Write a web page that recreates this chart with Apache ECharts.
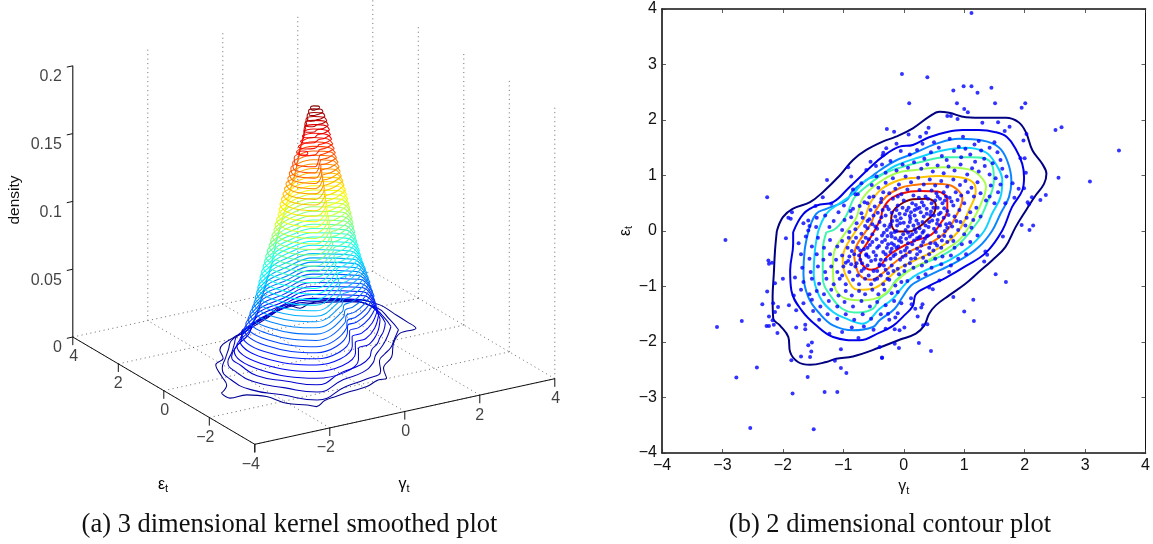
<!DOCTYPE html>
<html><head><meta charset="utf-8">
<style>html,body{margin:0;padding:0;background:#fff}#c{width:1153px;height:544px}</style>
<script src="https://cdn.jsdelivr.net/npm/echarts@6/dist/echarts.min.js"></script></head>
<body><div id="c"></div>
<script>
// ---------- data: right panel ----------
const axisTicks=[-4,-3,-2,-1,0,1,2,3,4];
const contourColors=['#000080','#0000e6','#0a84ff','#10d4ff','#40f5b0','#a8ff50','#ffc400','#ff7400','#f01000','#800000'];
const contourNavy=[[-2.10,0],[-2.0,.25],[-1.84,.40],[-1.55,.52],[-1.34,.70],[-1.06,1.0],[-.84,1.28],[-.62,1.46],[-.35,1.61],[-.13,1.70],[.15,1.85],[.42,2.06],[.59,2.15],[.75,2.13],[1.03,2.05],[1.36,2.04],[1.69,2.04],[1.9,1.96],[2.02,1.78],[2.13,1.45],[2.29,1.21],[2.36,1.03],[2.32,.85],[2.18,.64],[2.02,.37],[1.85,.07],[1.68,-.29],[1.46,-.53],[1.24,-.74],[1.02,-.95],[.75,-1.16],[.53,-1.34],[.42,-1.49],[.34,-1.70],[.20,-1.85],[-.07,-1.96],[-.4,-2.10],[-.84,-2.26],[-1.12,-2.3],[-1.28,-2.36],[-1.55,-2.41],[-1.75,-2.36],[-1.88,-2.18],[-1.91,-1.91],[-2.05,-1.70],[-2.16,-1.58],[-2.17,-1.19],[-2.15,-.77],[-2.13,-.35],[-2.10,0]];
const contourBlue=[[-1.83,-.02],[-1.66,.31],[-1.44,.46],[-1.17,.52],[-.9,.79],[-.57,1.13],[-.35,1.34],[-.07,1.52],[.15,1.55],[.42,1.69],[.7,1.78],[.97,1.82],[1.24,1.82],[1.52,1.78],[1.71,1.69],[1.85,1.48],[1.96,1.21],[1.99,.97],[1.96,.73],[1.79,.43],[1.63,.01],[1.36,-.39],[1.03,-.63],[.7,-.84],[.42,-.99],[.2,-1.14],[.15,-1.35],[0,-1.53],[-.18,-1.71],[-.4,-1.83],[-.73,-1.97],[-1.17,-1.91],[-1.45,-1.70],[-1.69,-1.43],[-1.86,-1.07],[-1.88,-.71],[-1.83,-.23],[-1.83,-.02]];
const contourAzure=[[-1.58,-.02],[-1.45,.31],[-1.28,.40],[-.95,.55],[-.84,.73],[-.51,1.0],[-.4,1.09],[-.13,1.27],[.15,1.39],[.53,1.57],[.92,1.66],[1.30,1.63],[1.57,1.51],[1.71,1.27],[1.78,.91],[1.74,.61],[1.60,.31],[1.46,0],[1.24,-.29],[.92,-.53],[.59,-.71],[.31,-.86],[.12,-.98],[-.02,-1.19],[-.15,-1.40],[-.4,-1.61],[-.51,-1.73],[-.84,-1.79],[-1.17,-1.70],[-1.39,-1.49],[-1.58,-1.19],[-1.66,-.77],[-1.64,-.35],[-1.58,-.02]];
const contourCyan=[[-1.42,-.02],[-1.28,.31],[-1.06,.50],[-.84,.67],[-.62,.92],[-.4,1.0],[-.13,1.18],[.26,1.33],[.64,1.45],[1.02,1.50],[1.35,1.42],[1.52,1.21],[1.63,.91],[1.60,.61],[1.46,.31],[1.33,0],[1.08,-.29],[.75,-.53],[.42,-.68],[.15,-.83],[-.02,-1.01],[-.18,-1.22],[-.4,-1.40],[-.68,-1.67],[-.95,-1.58],[-1.17,-1.46],[-1.39,-1.19],[-1.49,-.77],[-1.47,-.35],[-1.42,-.02]];
const contourSpring=[[-1.28,-.02],[-1.12,.05],[-.95,.28],[-.82,.60],[-.62,.80],[-.35,1.02],[-.13,1.12],[.26,1.24],[.70,1.33],[1.13,1.33],[1.41,1.27],[1.49,.91],[1.35,.43],[1.24,.19],[.92,-.23],[.64,-.44],[.31,-.59],[.04,-.74],[-.13,-.89],[-.26,-1.10],[-.4,-1.22],[-.51,-1.40],[-.75,-1.47],[-.95,-1.44],[-1.23,-1.14],[-1.34,-.84],[-1.34,-.35],[-1.28,-.02]];
const contourLime=[[-1.17,-.58],[-1.15,-.37],[-1.01,-.10],[-.79,.23],[-.68,.59],[-.43,.86],[-.13,1.04],[.20,1.10],[.64,1.15],[1.08,1.11],[1.27,.98],[1.36,.80],[1.27,.47],[1.08,.08],[.92,-.16],[.64,-.37],[.37,-.55],[.15,-.67],[-.07,-.85],[-.35,-1.16],[-.68,-1.25],[-.95,-1.22],[-1.12,-1.07],[-1.17,-.77],[-1.17,-.58]];
const contourGold=[[-1.01,-.58],[-.98,-.34],[-.82,-.04],[-.65,.23],[-.54,.53],[-.35,.77],[-.07,.92],[.20,.96],[.59,.99],[.97,.96],[1.16,.86],[1.19,.71],[1.08,.38],[.92,.02],[.70,-.22],[.48,-.37],[.20,-.52],[-.07,-.67],[-.29,-.88],[-.49,-1.03],[-.76,-1.06],[-.95,-.82],[-1.01,-.58]];
const contourOrange=[[-.82,-.46],[-.79,-.28],[-.65,-.04],[-.54,.14],[-.46,.38],[-.29,.62],[-.07,.77],[.17,.83],[.48,.85],[.75,.83],[.92,.71],[.97,.59],[.86,.26],[.70,-.01],[.48,-.19],[.15,-.34],[-.13,-.55],[-.35,-.76],[-.54,-.88],[-.73,-.79],[-.82,-.46]];
const contourRed=[[-.73,-.43],[-.68,-.34],[-.54,-.10],[-.38,.23],[-.35,.38],[-.24,.56],[-.02,.68],[.26,.72],[.56,.71],[.72,.56],[.72,.38],[.61,.14],[.45,-.07],[.15,-.19],[-.07,-.31],[-.27,-.46],[-.40,-.64],[-.54,-.70],[-.68,-.61],[-.73,-.43]];
const contourDarkRed=[[-.21,.20],[-.18,.35],[-.07,.47],[.15,.57],[.39,.58],[.53,.47],[.50,.32],[.39,.20],[.26,.08],[.09,-.01],[-.10,-.01],[-.195,.08],[-.21,.20]];
const contours=[contourNavy,contourBlue,contourAzure,contourCyan,contourSpring,contourLime,contourGold,contourOrange,contourRed,contourDarkRed];
const outlierDots=[[-2.95,-.16],[-3.09,-1.73],[-2.68,-1.62],[-2.77,-2.64],[-2.43,-2.46],[-2.54,-3.55],[-1.49,-3.57],[-1.84,-2.93],[-1.59,-2.63],[-1.31,-2.90],[-1.10,-2.90],[-1.04,-2.47],[-.95,-2.56],[-1.86,-2.33],[-1.70,-2.26],[-1.55,-2.27],[-1.53,-2.17],[-1.58,-2.06],[-1.52,-2.01],[-1.14,-2.34],[-1.04,-2.13],[-.36,-2.28],[-.40,-2.09],[-2.34,-1.32],[-2.26,-1.09],[-2.13,-.94],[-2.24,-.53],[-2.23,-.59],[-2.18,-.57],[-2.0,-.86],[-1.95,-.13],[-2.16,-1.30],[-2.08,-1.37],[-2.13,-1.46],[-2.23,-1.54],[-2.17,-1.61],[-2.27,-1.71],[-2.23,-1.71],[-2.15,-1.69],[-2.09,-1.84],[-1.90,-1.34],[-1.78,-1.43],[-1.78,-1.74],[-1.63,-1.69],[-1.63,-1.77],[-1.23,-1.85],[-.75,-1.93],[1.52,-.78],[1.69,-.92],[1.15,-1.24],[1.0,-1.45],[1.16,-1.62],[.82,-1.19],[.39,-1.68],[.32,-1.70],[.25,-2.02],[.45,-2.16],[-.08,-2.11],[-.36,-2.29],[-.15,-2.03],[.01,-1.74],[-.07,-1.79],[-.15,-1.77],[.23,-1.54],[.29,-1.38],[.31,-1.32],[.19,-1.40],[.13,-1.32],[.12,-1.21],[-.14,-1.56],[-.26,-1.49],[.42,-1.02],[.48,-1.05],[.59,-.89],[.75,-.74],[1.35,-.37],[1.64,-.10],[1.33,-.55],[1.38,-.43],[1.12,3.93],[-.03,2.83],[.39,2.77],[.82,2.53],[.99,2.61],[1.12,2.61],[1.22,2.49],[1.45,2.58],[.88,2.30],[1.51,2.30],[1.95,2.22],[2.01,2.30],[.09,2.30],[1.0,2.20],[1.06,2.14],[.72,2.07],[.78,2.07],[.89,2.02],[1.30,1.95],[1.56,1.96],[1.75,1.88],[1.67,1.80],[2.51,1.82],[2.61,1.87],[3.56,1.45],[3.08,.89],[2.56,.96],[2.35,.65],[2.26,.56],[2.12,.61],[2.05,.52],[2.07,.48],[2.03,1.75],[1.98,1.63],[1.93,1.31],[2.0,1.31],[2.02,1.05],[1.90,.76],[1.99,.77],[1.95,.11],[2.08,.02],[2.14,.10],[-.28,1.84],[-.16,1.79],[.41,1.86],[.08,1.74],[.27,1.70],[.37,1.77],[.31,1.57],[-.12,1.57],[-.35,1.36],[-.29,1.49],[-.34,1.41],[-.46,1.17],[-.36,1.20],[-.55,1.25],[-.62,1.10],[-.92,1.15],[-.87,.98],[-.70,.86],[-.84,.75],[-.80,.66],[-.76,.66],[-1.27,.92],[-1.46,.45],[-1.34,.61],[-1.20,.49],[-.99,.46],[-.84,.40],[-.73,.45],[-.57,.61],[-.65,.52],[-1.85,.34],[-1.91,.24],[-1.87,.22],[-1.66,.14],[-1.58,.19],[-1.56,.09],[-1.58,.01],[-1.45,.07],[-1.23,.07],[-.87,.25],[-.37,.58],[-2.26,.61]];
const bodyDots=[[-.05,1.44],[.1,1.38],[.22,1.46],[.34,1.3],[.45,1.42],[.58,1.5],[.63,1.35],[.71,1.28],[.83,1.44],[.91,1.52],[.95,1.33],[1.02,1.48],[1.1,1.38],[1.17,1.56],[1.18,1.25],[1.28,1.45],[1.33,1.3],[1.42,1.5],[1.47,1.22],[1.55,1.42],[1.6,1.28],[1.63,1.12],[1.5,1.6],[1.24,1.62],[.98,1.7],[.76,1.66],[.5,1.6],[-.22,1.26],[-.3,1.05],[-.12,1.09],[-.02,1.2],[.07,1.14],[.17,1.24],[.29,1.12],[.39,1.2],[.48,1.07],[.56,1.18],[.66,1.04],[.74,1.16],[.84,1.09],[.94,1.2],[1.05,1.02],[1.13,1.13],[1.24,1.07],[1.34,1.17],[1.42,1.02],[1.52,.95],[1.6,.84],[1.44,.82],[1.56,.7],[1.42,.62],[1.5,.5],[1.36,.55],[1.7,.98],[1.8,.86],[1.83,.6],[1.68,.5],[-.45,.98],[-.53,.83],[-.42,.78],[-.3,.87],[-.18,.95],[-.08,.84],[.03,.98],[.12,.88],[.24,.96],[.33,.84],[.43,.93],[.52,.82],[.62,.9],[.72,.8],[.82,.93],[.93,.83],[1.02,.9],[1.12,.78],[1.22,.88],[1.27,.68],[1.16,.62],[1.06,.7],[.95,.64],[.86,.7],[.76,.6],[.66,.7],[.56,.62],[.46,.73],[.36,.62],[.26,.74],[.16,.64],[.06,.75],[-.04,.66],[-.14,.76],[-.24,.68],[-.34,.7],[-.5,.62],[-.6,.5],[-.48,.44],[-.38,.52],[-.28,.44],[-.18,.58],[-.1,.46],[0,.55],[.08,.42],[.14,.5],[.22,.4],[.3,.52],[.38,.4],[.46,.5],[.56,.42],[.64,.5],[.72,.36],[.82,.46],[.92,.38],[1.0,.5],[1.1,.34],[1.2,.42],[1.27,.26],[1.15,.2],[1.04,.24],[.94,.16],[.84,.26],[.76,.14],[.66,.24],[.6,.1],[.5,.28],[.42,.16],[.33,.26],[.24,.13],[.18,.28],[.1,.16],[.02,.3],[-.06,.14],[-.14,.26],[-.22,.12],[-.3,.28],[-.4,.16],[-.5,.28],[-.6,.18],[-.7,.32],[-.78,.14],[-.88,.36],[-.98,.2],[-1.08,.34],[-1.16,.18],[-1.3,.28],[-1.44,.24],[-1.02,.02],[-.9,-.02],[-.8,.03],[-.7,-.05],[-.6,.05],[-.52,-.06],[-.44,.04],[-.36,-.08],[-.28,.02],[-.2,-.1],[-.12,0],[-.05,-.12],[.03,.02],[.1,-.1],[.18,.03],[.25,-.12],[.33,.0],[.4,-.08],[.5,.04],[.58,-.1],[.68,0],[.78,-.1],[.9,.02],[1.0,-.06],[1.12,.06],[1.22,-.08],[1.1,-.2],[.96,-.24],[.84,-.3],[.72,-.2],[.62,-.3],[.52,-.22],[.42,-.3],[.32,-.2],[.22,-.32],[.14,-.24],[.05,-.3],[-.04,-.2],[-.12,-.3],[-.2,-.22],[-.28,-.3],[-.36,-.2],[-.44,-.3],[-.52,-.2],[-.6,-.3],[-.68,-.2],[-.76,-.3],[-.84,-.2],[-.93,-.3],[-1.02,-.18],[-1.1,-.28],[-1.22,-.16],[-1.32,-.3],[-1.42,-.12],[-1.52,-.28],[-1.62,-.1],[-1.74,-.22],[-1.7,-.42],[-1.56,-.5],[-1.44,-.42],[-1.33,-.52],[-1.22,-.42],[-1.12,-.52],[-1.02,-.44],[-.92,-.54],[-.82,-.42],[-.72,-.52],[-.62,-.44],[-.54,-.54],[-.46,-.44],[-.38,-.52],[-.3,-.42],[-.22,-.5],[-.14,-.42],[-.06,-.52],[.03,-.44],[.12,-.5],[.22,-.42],[.32,-.48],[.42,-.42],[.52,-.5],[.64,-.46],[.78,-.44],[.9,-.5],[1.03,-.42],[.78,-.62],[.62,-.6],[.46,-.66],[.3,-.62],[.16,-.66],[.02,-.62],[-.1,-.68],[-.2,-.62],[-.3,-.7],[-.4,-.62],[-.5,-.72],[-.6,-.62],[-.7,-.72],[-.8,-.64],[-.9,-.74],[-1.0,-.64],[-1.1,-.74],[-1.2,-.64],[-1.3,-.74],[-1.42,-.64],[-1.54,-.74],[-1.68,-.66],[-1.8,-.84],[-1.66,-.92],[-1.52,-.86],[-1.4,-.95],[-1.28,-.86],[-1.16,-.96],[-1.06,-.86],[-.96,-.96],[-.84,-.88],[-.74,-.96],[-.64,-.86],[-.54,-.96],[-.44,-.86],[-.34,-.96],[-.24,-.88],[-.14,-.98],[-.04,-.92],[.06,-.9],[.24,-.84],[.36,-.78],[-.1,-1.1],[-.2,-1.12],[-.32,-1.06],[-.42,-1.14],[-.52,-1.06],[-.64,-1.14],[-.74,-1.08],[-.86,-1.16],[-.96,-1.08],[-1.08,-1.16],[-1.2,-1.06],[-1.32,-1.14],[-1.44,-1.08],[-1.56,-1.14],[-1.7,-1.06],[-1.82,-1.16],[-1.66,-1.3],[-1.52,-1.24],[-1.38,-1.36],[-1.24,-1.26],[-1.1,-1.36],[-.98,-1.28],[-.84,-1.36],[-.7,-1.26],[-.56,-1.36],[-.44,-1.28],[-.3,-1.34],[-.16,-1.26],[-.04,-1.3],[-.1,-1.48],[-.24,-1.6],[-.38,-1.5],[-.54,-1.58],[-.68,-1.5],[-.82,-1.6],[-.96,-1.5],[-1.1,-1.58],[-1.26,-1.5],[-1.4,-1.6],[-1.5,-1.44],[-.5,-1.78],[-.66,-1.72],[-.86,-1.74],[-1.02,-1.82],[-.3,-1.76],[-.2,-.32],[-.15,-.02],[-.32,.1],[.0,.15],[.12,.34],[.25,.6],[-.1,.62],[.45,.35],[.58,.3],[-.45,-.15],[-.62,-.42],[-.58,-.15],[-.4,-.6],[-.22,-.38],[-.05,-.38],[.1,-.38],[.27,-.1],[.36,.1],[.16,.1],[-.02,.42],[-.35,.38],[-.52,.12],[-.72,-.35],[-.9,-.46],[-.78,-.58],[-.48,-.88],[-.26,-.76],[.2,-.02],[.28,.34],[.52,.55],[.7,.62]];
const coreDots=[[-.31,-.16],[-.27,-.09],[-.24,.07],[-.19,.18],[-.16,-.25],[-.11,.1],[-.08,-.17],[-.05,.23],[-.01,-.06],[.04,-.14],[.07,.08],[.11,.22],[.14,-.06],[.17,-.17],[.21,.19],[.26,.05],[.29,-.26],[.31,.16],[.35,-.14],[.38,.31],[.41,.07],[.44,-.22],[.47,.19],[.53,-.02],[.55,.13],[.61,.33],[.63,-.17],[.67,.41],[.7,.12],[.74,.29],[.8,.08],[-.34,-.38],[-.3,-.52],[-.26,-.24],[-.17,-.45],[-.09,-.28],[-.02,-.47],[.07,-.22],[.1,-.58],[.19,-.49],[.27,-.37],[.37,-.55],[.49,-.35],[-.41,-.27],[-.47,-.52],[-.5,-.38],[-.56,-.25],[-.58,-.47],[-.63,-.12],[-.66,-.33],[-.69,-.58],[-.74,-.44],[-.79,-.12],[-.86,-.36],[-.91,-.12],[-.96,-.57],[-.37,.25],[-.43,.33],[-.47,.08],[-.55,.38],[-.57,.21],[-.64,.09],[-.68,.24],[-.25,.39],[-.2,.33],[-.12,.38],[-.07,.31],[.05,.37],[.1,.27],[.2,.47],[.26,.42],[.33,.46],[.4,.58],[.49,.42],[.54,.68],[.6,.58],[.68,.55],[.79,.53],[.89,.56],[-.44,-.72],[-.38,-.8],[-.33,-.62],[-.27,-.86],[-.17,-.72],[-.08,-.78],[.01,-.72],[-.58,-.8],[-.66,-.68],[-.76,-.8],[-.87,-.6],[-1.02,-.8],[.31,-.03],[.44,.29],[.18,.38],[.07,-.03],[-.11,.19],[-.21,-.04],[-.33,-.03],[.56,.2],[.72,.06],[.87,.18],[1.02,.1],[.67,-.09],[.82,-.18],[.55,-.26],[.38,-.1],[.22,-.13],[.02,-.35],[-.14,-.13]];
// ---------- data: left panel ----------
const zTicks=[0,.05,.1,.15,.2];
const zTickText=['0','0.05','0.1','0.15','0.2'];
const floorTicks=[-4,-2,0,2,4];
const lowestRing=[[-3.11,-1.06],[-3.10,-1.43],[-2.67,-1.45],[-2.34,-1.78],[-2.17,-2.38],[-1.83,-2.72],[-1.70,-2.92],[-1.34,-2.69],[-1.01,-2.60],[-.55,-2.50],[-.06,-2.43],[.38,-2.20],[.60,-2.21],[.87,-1.63],[1.41,-1.10],[1.89,-.39],[2.35,.08],[2.82,.16],[2.86,.63],[2.88,1.25],[2.89,1.86],[2.60,2.41],[2.15,2.68],[1.59,2.78],[1.23,2.63],[1.08,2.97],[.48,2.71],[-.23,2.28],[-.70,1.94],[-.98,1.86],[-1.71,1.31],[-1.92,.82],[-2.28,.55],[-2.55,-.16],[-2.73,-.67],[-3.11,-1.06]];
const lowestLevel=.0032;
const lowRingLevels=[.0068,.0104,.014];
const lowRingRadii=[ // 15 degree steps from the ring centre
[2.25,2.5,2.95,3.05,2.85,2.6,2.15,1.95,1.9,1.95,1.95,2.1,2.45,2.75,3.0,3.05,3.3,2.55,2.3,2.1,1.7,1.65,1.75,1.9],
[2.05,2.3,2.7,2.8,2.65,2.4,2.0,1.85,1.8,1.82,1.82,1.95,2.3,2.55,2.8,2.9,3.1,2.4,2.15,1.85,1.6,1.55,1.6,1.75],
[1.9,2.15,2.5,2.55,2.45,2.25,1.85,1.72,1.68,1.7,1.65,1.85,2.2,2.4,2.7,2.78,2.95,2.25,2.0,1.75,1.5,1.48,1.5,1.65]];
const ringLevels=[.0176,.0212,.0248,.0284,.032,.0356,.0392,.0428,.0464,.05,.0536,.0572,.0608,.0644,.068,.0716,.0752,.0788,.0824,.086,.0896,.0932,.0968,.1004,.104,.1076,.1112,.1148,.1184,.122,.1256,.1292,.1328,.1364,.14,.1436,.1472,.1508,.1544,.158,.1616,.1652,.1688,.1724,.176,.1796,.1832];
const ringRadii=[ // 30 degree steps from the ring centre
[1.76,2.43,2.24,1.66,1.54,1.49,2.13,2.60,2.85,1.95,1.43,1.44],
[1.72,2.38,2.18,1.60,1.50,1.44,2.06,2.52,2.73,1.82,1.34,1.38],
[1.69,2.32,2.12,1.52,1.46,1.40,1.98,2.44,2.62,1.68,1.24,1.32],
[1.66,2.27,2.06,1.46,1.41,1.35,1.92,2.36,2.54,1.56,1.16,1.26],
[1.62,2.21,2.01,1.41,1.36,1.31,1.86,2.28,2.46,1.46,1.10,1.21],
[1.60,2.16,1.97,1.39,1.33,1.28,1.82,2.22,2.39,1.42,1.08,1.18],
[1.56,2.09,1.92,1.36,1.30,1.25,1.76,2.15,2.30,1.36,1.05,1.15],
[1.52,2.02,1.86,1.33,1.27,1.22,1.71,2.08,2.21,1.30,1.01,1.12],
[1.49,1.96,1.80,1.30,1.23,1.18,1.65,2.01,2.12,1.25,.98,1.08],
[1.45,1.90,1.75,1.28,1.20,1.15,1.60,1.95,2.05,1.20,.95,1.05],
[1.41,1.85,1.71,1.26,1.17,1.12,1.57,1.91,2.01,1.16,.92,1.02],
[1.37,1.79,1.67,1.25,1.14,1.09,1.53,1.87,1.97,1.12,.88,.99],
[1.32,1.73,1.62,1.23,1.10,1.05,1.50,1.82,1.92,1.07,.85,.95],
[1.28,1.68,1.58,1.21,1.07,1.02,1.47,1.78,1.88,1.03,.82,.92],
[1.24,1.63,1.53,1.19,1.04,.99,1.44,1.74,1.84,.99,.79,.89],
[1.21,1.59,1.49,1.15,1.02,.97,1.40,1.69,1.79,.96,.76,.86],
[1.18,1.54,1.44,1.12,1.00,.94,1.36,1.65,1.74,.92,.73,.83],
[1.14,1.50,1.40,1.09,.98,.91,1.32,1.60,1.70,.89,.71,.81],
[1.11,1.46,1.36,1.06,.96,.89,1.29,1.56,1.66,.86,.69,.79],
[1.09,1.43,1.33,1.04,.92,.86,1.25,1.53,1.61,.83,.66,.76],
[1.06,1.39,1.29,1.01,.89,.83,1.20,1.49,1.56,.79,.62,.72],
[1.04,1.36,1.26,.99,.86,.80,1.16,1.46,1.52,.76,.59,.69],
[1.02,1.33,1.23,.97,.83,.77,1.12,1.43,1.48,.73,.57,.67],
[.99,1.29,1.19,.94,.79,.74,1.07,1.39,1.44,.69,.54,.64],
[.96,1.25,1.15,.91,.76,.71,1.04,1.34,1.40,.66,.51,.62],
[.93,1.20,1.10,.88,.72,.67,1.00,1.29,1.35,.62,.48,.59],
[.90,1.16,1.06,.85,.69,.64,.96,1.24,1.30,.59,.45,.57],
[.87,1.12,1.02,.83,.66,.61,.93,1.20,1.27,.56,.43,.56],
[.84,1.08,.98,.81,.64,.59,.91,1.16,1.23,.54,.41,.54],
[.80,1.04,.95,.78,.61,.56,.87,1.12,1.19,.51,.38,.50],
[.77,.99,.92,.75,.57,.52,.83,1.08,1.14,.48,.35,.47],
[.73,.94,.88,.72,.54,.49,.79,1.04,1.09,.45,.33,.44],
[.70,.90,.85,.70,.50,.45,.75,1.00,1.05,.42,.30,.42],
[.67,.86,.81,.68,.47,.42,.70,.98,1.03,.38,.27,.40],
[.64,.82,.78,.65,.45,.40,.66,.96,1.01,.34,.25,.37],
[.60,.78,.75,.62,.42,.38,.62,.93,.98,.30,.23,.34],
[.57,.73,.73,.60,.39,.36,.57,.91,.96,.27,.21,.32],
[.54,.69,.71,.57,.37,.34,.53,.85,.88,.24,.20,.29],
[.50,.65,.67,.52,.34,.31,.47,.55,.45,.21,.17,.27],
[.47,.62,.63,.48,.30,.27,.42,.42,.33,.18,.15,.25],
[.44,.58,.59,.45,.27,.24,.36,.35,.28,.15,.14,.24],
[.41,.56,.56,.43,.26,.21,.31,.31,.26,.13,.12,.22],
[.38,.52,.52,.40,.24,.19,.27,.27,.22,.11,.11,.21],
[.34,.47,.46,.35,.21,.17,.23,.22,.18,.10,.10,.19],
[.29,.41,.40,.30,.18,.14,.18,.17,.14,.09,.09,.16],
[.24,.33,.32,.24,.14,.11,.13,.12,.10,.08,.08,.13],
[.15,.21,.20,.15,.09,.07,.08,.08,.07,.06,.06,.09]];
const creaseRadii=[1.40,1.30,1.20,1.12,1.06,1.05,1.02,.98,.95,.92,.89,.85,.82,.79,.76,.73,.70,.68,.66,.63,.59,.56,.54,.51,.48,.45,.43,.41,.39,.36,.33,.31,.28,.25,.23,.21,.20,.19,.16,.14,.13,.12,.11,.10,.09,.08,.06]; // radius of each ring at 285 degrees, where the rings kink
const sidePeakRing=[[-.68,-.50],[-.62,-.36],[-.50,-.34],[-.44,-.44],[-.50,-.56],[-.62,-.58],[-.68,-.50]];
const sidePeakLevel=.159;
const ringCentre=[.02,.02];

// ---------- drawing ----------
const SANS='"Liberation Sans",Arial,sans-serif', SERIF='"Liberation Serif","Times New Roman",serif';
const maxLevel=.1832;
// 3-D view: floor corner at gamma=-4, eps=-4, and screen steps per unit of each axis
function view(g,e,z){return [254.8+(g+4)*37.5-(e+4)*22.75, 444.3-(g+4)*8.2-(e+4)*13.41-z*1356];}
function jet(t){
  const seg=(a)=>Math.max(0,Math.min(1,a));
  const r=seg(Math.min(4*t-1.5,-4*t+4.5)),g=seg(Math.min(4*t-.5,-4*t+3.5)),b=seg(Math.min(4*t+.5,-4*t+2.5));
  return `rgb(${Math.round(r*255)},${Math.round(g*255)},${Math.round(b*255)})`;
}
function polarPoint(r,deg,z){const a=deg*Math.PI/180;return view(ringCentre[0]+r*Math.cos(a),ringCentre[1]+r*Math.sin(a),z);}
function polarRing(radii,z,crease){
  const step=360/radii.length,pts=[];
  radii.forEach((r,i)=>{pts.push(polarPoint(r,i*step,z));
    if(crease!==undefined&&i*step===270)pts.push(polarPoint(crease,285,z));});
  pts.push(pts[0]);return pts;
}
const series=[];
function seg3(pts,color,width,type){series.push({type:'line',xAxisIndex:0,yAxisIndex:0,data:pts,symbol:'none',silent:true,animation:false,
  lineStyle:{color,width,type:type||'solid'},clip:false,z:1});}
const DOT=[1,3.5];
// back walls and floor grid
floorTicks.forEach(t=>{
  if(t>-4){seg3([view(t,4,0),view(t,4,.2)],'#444',.8,DOT);}
  if(t<4){seg3([view(4,t,0),view(4,t,.2)],'#444',.8,DOT);}
  seg3([view(t,-4,0),view(t,4,0)],'#444',.8,DOT);
  seg3([view(-4,t,0),view(4,t,0)],'#444',.8,DOT);
});
// contour rings
function ring(pts,z,smooth){series.push({type:'line',xAxisIndex:0,yAxisIndex:0,data:pts,symbol:'none',smooth:smooth,silent:true,animation:false,clip:false,
  lineStyle:{color:jet(z/maxLevel),width:1.05},z:3});}
ring(lowestRing.map(p=>view(p[0],p[1],lowestLevel)),lowestLevel,.4);
lowRingLevels.forEach((z,i)=>ring(polarRing(lowRingRadii[i],z),z,.5));
ringLevels.forEach((z,i)=>ring(polarRing(ringRadii[i],z,creaseRadii[i]),z,.4));
ring(sidePeakRing.map(p=>view(p[0],p[1],sidePeakLevel)),sidePeakLevel,.5);
// axes
seg3([view(-4,4,0),view(-4,-4,0),view(4,-4,0)],'#111',1);
seg3([view(-4,4,0),view(-4,4,.2)],'#111',1.1);
zTicks.forEach(z=>seg3([view(-4,4,z),view(-4.16,4,z)],'#111',1));
floorTicks.forEach(t=>{seg3([view(-4,t,0),view(-4,t,-.006)],'#111',1);seg3([view(t,-4,0),view(t,-4,-.006)],'#111',1);});
// tick labels on the 3-D axes
const labelBase={type:'scatter',xAxisIndex:0,yAxisIndex:0,symbolSize:0,silent:true,animation:false,clip:false,z:5};
function text3(pts,texts,dx,dy,align){series.push(Object.assign({},labelBase,{data:pts.map((p,i)=>({value:p,label:{show:true,position:'inside',formatter:texts[i],offset:[dx[i]||0,dy],align:align||'center',verticalAlign:'middle',color:'#111',fontFamily:SANS,fontSize:16}}))}));}
const minus=t=>String(t).replace('-','\u2212');
text3(zTicks.map(z=>view(-4,4,z)),zTickText,[-11,-11,-11,-11,-11],11,'right');
text3(floorTicks.map(t=>view(-4,t,0)),floorTicks.map(minus),[-4,-4,1,0,1],20);
text3(floorTicks.slice(1).map(t=>view(t,-4,0)),floorTicks.slice(1).map(minus),[-4,1,0,1],20);
// right panel
contours.forEach((c,i)=>series.push({type:'line',xAxisIndex:1,yAxisIndex:1,data:c,symbol:'none',smooth:.4,silent:true,animation:false,lineStyle:{color:contourColors[i],width:2},z:3}));
series.push({type:'scatter',xAxisIndex:1,yAxisIndex:1,data:outlierDots.concat(bodyDots,coreDots),symbol:'circle',symbolSize:4,silent:true,animation:false,itemStyle:{color:'#0000ff'},z:4,clip:false});

const lab={color:'#111',fontFamily:SANS,fontSize:16};
function mainAxis(pos,idx){return {type:'value',gridIndex:1,position:pos,min:-4,max:4,interval:1,splitLine:{show:false},
  axisLine:{show:true,onZero:false,lineStyle:{color:'#111',width:pos==='right'?1:1.6}},
  axisTick:{show:true,inside:true,length:4,lineStyle:{color:'#333',width:.8}},
  axisLabel:{show:!idx,margin:5,formatter:minus,...lab,showMinLabel:true,showMaxLabel:true}};}
const subRich={g:{fontFamily:SANS,fontSize:16,color:'#111'},s:{fontFamily:SANS,fontSize:11,color:'#111',padding:[8,0,0,0]}};
const xMain=mainAxis('bottom',0);
xMain.name='{g|\u03b3}{s|t}';xMain.nameLocation='middle';xMain.nameGap=23;xMain.nameTextStyle={rich:subRich};
const yMain=mainAxis('left',0);
yMain.name='{g|\u03b5}{s|t}';yMain.nameLocation='middle';yMain.nameGap=20;yMain.nameRotate=90;yMain.nameTextStyle={rich:subRich};

const option={
  backgroundColor:'#fff',animation:false,
  grid:[{left:0,top:0,width:576,height:544},{left:662,top:9,width:485,height:444}],
  xAxis:[{type:'value',gridIndex:0,min:0,max:576,show:false},xMain,mainAxis('top',1)],
  yAxis:[{type:'value',gridIndex:0,min:0,max:544,inverse:true,show:false},yMain,mainAxis('right',1)],
  series,
  graphic:[
    {type:'text',rotation:Math.PI/2,x:15,y:200,style:{text:'density',fontFamily:SANS,fontSize:15.5,fill:'#111',align:'center',verticalAlign:'middle'}},
    {type:'text',x:163,y:485,style:{rich:subRich,text:'{g|\u03b5}{s|t}',fontFamily:SANS,align:'center',verticalAlign:'middle'}},
    {type:'text',x:404,y:485,style:{rich:subRich,text:'{g|\u03b3}{s|t}',fontFamily:SANS,align:'center',verticalAlign:'middle'}},
    {type:'text',x:289.5,y:525,style:{text:'(a) 3 dimensional kernel smoothed plot',fontFamily:SERIF,fontSize:26.5,fill:'#111',align:'center',verticalAlign:'middle'}},
    {type:'text',x:890,y:525,style:{text:'(b) 2 dimensional contour plot',fontFamily:SERIF,fontSize:26.5,fill:'#111',align:'center',verticalAlign:'middle'}}
  ]
};
echarts.init(document.getElementById('c'),null,{renderer:'canvas'}).setOption(option);
</script></body></html>
